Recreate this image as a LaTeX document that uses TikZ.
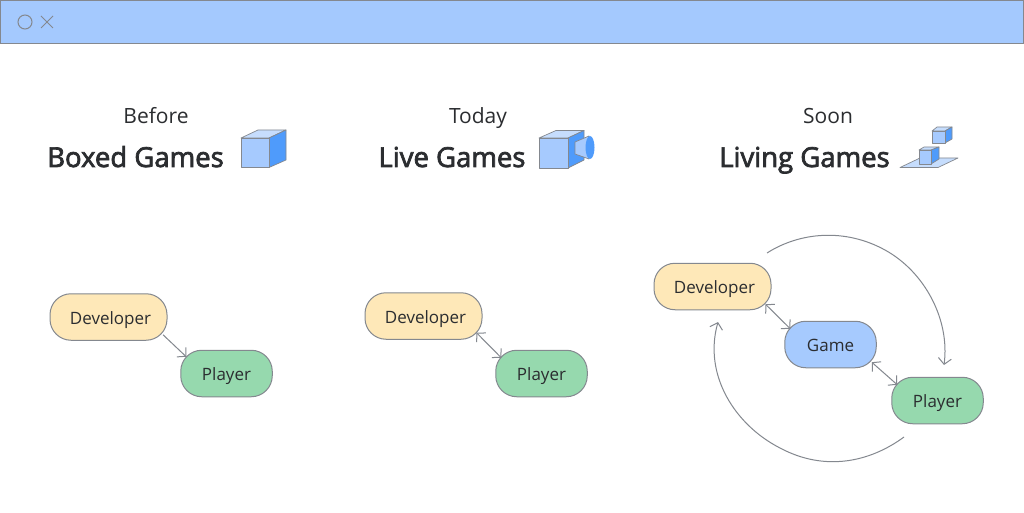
\documentclass[tikz,border=0pt]{standalone}
\usepackage{fontspec}
\setmainfont{Open Sans}
\newfontfamily\headfont[FakeBold=2.6]{Open Sans}
\usetikzlibrary{arrows.meta}
\definecolor{barblue}{HTML}{A4C9FE}
\definecolor{lineg}{HTML}{84888F}
\definecolor{devy}{HTML}{FEE8B8}
\definecolor{playg}{HTML}{96D9AE}
\definecolor{gameb}{HTML}{A6CAFE}
\definecolor{deepb}{HTML}{4F9BFB}
\definecolor{topb}{HTML}{C6DDFD}
\definecolor{ink}{HTML}{2B2D30}
\tikzset{
  x=1pt,y=-1pt,
  box/.style={draw=lineg,line width=1pt,rounded corners=21pt,inner sep=0pt,minimum height=46.5pt,text=ink,text height=14pt,text depth=0pt,font=\fontsize{17}{18}\selectfont},
  devbox/.style={box,fill=devy,minimum width=117pt},
  playbox/.style={box,fill=playg,minimum width=91.5pt},
  gamebox/.style={box,fill=gameb,minimum width=91.5pt},
  small/.style={font=\fontsize{21}{24}\selectfont,text=ink,inner sep=0pt,anchor=base},
  big/.style={font=\fontsize{27.5}{30}\headfont,text=ink,inner sep=0pt,anchor=base},
  conn/.style={draw=lineg,line width=1pt,-{Straight Barb[length=6pt,width=13pt]}},
  twoway/.style={draw=lineg,line width=1pt,{Straight Barb[length=6pt,width=13pt]}-{Straight Barb[length=6pt,width=13pt]}},
  loopc/.style={draw=lineg,line width=1pt,-{Straight Barb[length=6pt,width=13pt]}},
  ic/.style={draw=lineg,line width=0.7pt,line join=round},
}
\begin{document}
\begin{tikzpicture}
\useasboundingbox (0,0) rectangle (1024,513);
\fill[white] (0,0) rectangle (1024,513);
% title bar
\draw[fill=barblue,draw=lineg,line width=1.2pt] (0.5,0.5) rectangle (1023.5,43.5);
\draw[lineg,line width=1pt] (25,22) circle (7);
\draw[lineg,line width=1pt] (41,16) -- (53,28) (41,28) -- (53,16);
% titles
\node[small] (t1) at (156,123.5) {Before};
\node[big] (h1) at (135.5,167) {Boxed Games};
\node[small] (t2) at (478,123.5) {Today};
\node[big] (h2) at (452,167) {Live Games};
\node[small] (t3) at (828,123.5) {Soon};
\node[big] (h3) at (804.5,167) {Living Games};
% icon 1
\draw[ic,fill=topb] (241,138) -- (258,130) -- (286,130) -- (269,138) -- cycle;
\draw[ic,fill=deepb] (269,138) -- (286,130) -- (286,160) -- (269,167.5) -- cycle;
\draw[ic,fill=gameb] (241,138) rectangle (269,167.5);
% icon 2
\draw[ic,fill=topb] (539,138) -- (556,130.5) -- (584,130.5) -- (568,138) -- cycle;
\draw[ic,fill=deepb] (568,138) -- (584,130.5) -- (584,160) -- (568,168) -- cycle;
\draw[ic,fill=gameb] (539,138) rectangle (568,168);
\draw[ic,fill=gameb] (575,142) -- (589,136) -- (589,159) -- (575,154) -- cycle;
\fill[deepb] (590,147.5) ellipse (4.5 and 11.5);
% icon 3
\draw[ic,fill=topb] (900,167.5) -- (920,158) -- (958,158) -- (938,167.5) -- cycle;
\draw[ic,fill=topb] (919,150) -- (924,147) -- (939,147) -- (931,150) -- cycle;
\draw[ic,fill=deepb] (931,150) -- (939,147) -- (939,159) -- (931,164) -- cycle;
\draw[ic,fill=gameb] (919,150) rectangle (931,164);
\draw[ic,fill=topb] (932,131) -- (937,127) -- (952,127) -- (945,131) -- cycle;
\draw[ic,fill=deepb] (945,131) -- (952,127) -- (952,139) -- (945,143) -- cycle;
\draw[ic,fill=gameb] (932,131) rectangle (945,143);
% nodes
\node[devbox] (d1) at (108.5,317) {\hspace{4pt}Developer};
\node[playbox] (p1) at (226.5,373.5) {Player};
\node[devbox] (d2) at (423.5,316) {\hspace{4pt}Developer};
\node[playbox] (p2) at (541.5,373.5) {Player};
\node[devbox] (d3) at (712.5,286.5) {\hspace{4pt}Developer};
\node[gamebox] (g3) at (830.5,344.5) {Game};
\node[playbox] (p3) at (937.5,400.5) {Player};
% connectors
\draw[conn] ([xshift=-4.5pt,yshift=6pt]d1.south east) -- ([xshift=6pt,yshift=-7pt]p1.north west);
\draw[twoway] ([xshift=-6pt,yshift=7pt]d2.south east) -- ([xshift=6pt,yshift=-8pt]p2.north west);
\draw[twoway] ([xshift=-6pt,yshift=6pt]d3.south east) -- ([xshift=6pt,yshift=-8pt]g3.north west);
\draw[twoway] ([xshift=-5pt,yshift=6pt]g3.south east) -- ([xshift=6pt,yshift=-8pt]p3.north west);
% loops
\coordinate (a1) at (767,253);
\coordinate (a2) at (944,365);
\coordinate (b1) at (904,437);
\coordinate (b2) at (718,322);
\draw[loopc] (a1) .. controls (800,232) and (845,228) .. (885,250) .. controls (925,272) and (950,320) .. (a2);
\draw[loopc] (b1) .. controls (870,462) and (825,472) .. (780,448) .. controls (735,425) and (703,375) .. (b2);
\end{tikzpicture}
\end{document}
